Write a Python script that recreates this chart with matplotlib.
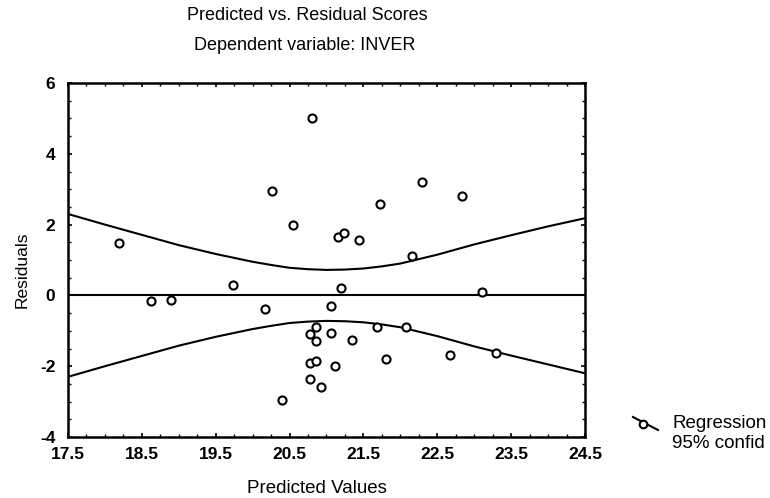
import matplotlib
matplotlib.use("Agg")
import matplotlib.pyplot as plt
from matplotlib.lines import Line2D
from matplotlib.ticker import MultipleLocator

plt.rcParams['font.family'] = ['Liberation Sans', 'DejaVu Sans']
plt.rcParams['axes.unicode_minus'] = False

# predicted values / residuals
predicted = [20.81, 20.26, 21.73, 20.55, 21.15, 21.24, 21.44, 18.19, 22.29, 22.83,
             22.16, 23.10, 22.07, 21.81, 22.67, 23.30, 19.73, 21.20, 18.63, 18.89,
             20.17, 21.06, 20.86, 20.77, 20.86, 21.06, 21.35, 21.69, 20.77, 20.86,
             21.11, 20.77, 20.93, 20.40]
residuals = [5.0, 2.95, 2.58, 1.98, 1.65, 1.75, 1.57, 1.48, 3.2, 2.8,
             1.1, 0.1, -0.9, -1.8, -1.68, -1.63, 0.3, 0.22, -0.15, -0.12,
             -0.39, -0.31, -0.9, -1.1, -1.3, -1.07, -1.26, -0.9, -1.9, -1.85,
             -2.0, -2.36, -2.58, -2.95]

# 95% confidence band read at a few x positions
band_x = [17.5, 18.0, 18.5, 19.0, 19.5, 20.0, 20.25, 20.5, 20.75, 21.0, 21.25,
          21.5, 21.75, 22.0, 22.5, 23.0, 23.5, 24.0, 24.5]
band_upper = [2.3, 2.0, 1.71, 1.42, 1.17, 0.95, 0.86, 0.78, 0.74, 0.72, 0.73,
              0.76, 0.82, 0.9, 1.15, 1.44, 1.7, 1.95, 2.18]
band_lower = [-2.3, -2.0, -1.71, -1.42, -1.17, -0.95, -0.86, -0.78, -0.74, -0.72, -0.73,
              -0.76, -0.82, -0.9, -1.15, -1.44, -1.7, -1.95, -2.2]

x_ticks = [17.5, 18.5, 19.5, 20.5, 21.5, 22.5, 23.5, 24.5]
y_ticks = [-4, -2, 0, 2, 4, 6]

W, H = 770, 498
fig = plt.figure(figsize=(W / 100, H / 100), dpi=100)
ax = fig.add_axes([68 / W, 1 - 437 / H, (585 - 68) / W, (437 - 83) / H])

ax.plot(band_x, band_upper, color='black', lw=1.5)
ax.plot(band_x, band_lower, color='black', lw=1.5)
ax.axhline(0, color='black', lw=1.5)
ax.scatter(predicted, residuals, s=34, facecolors='white', edgecolors='black',
           linewidths=1.5, zorder=3)

ax.set_xlim(17.5, 24.5)
ax.set_ylim(-4, 6)
ax.set_xticks(x_ticks)
ax.set_xticklabels([f"{v:.1f}" for v in x_ticks])
ax.set_yticks(y_ticks)
ax.xaxis.set_minor_locator(MultipleLocator(0.25))
ax.yaxis.set_minor_locator(MultipleLocator(0.5))
ax.tick_params(which='both', direction='in', top=True, right=True, color='black')
ax.tick_params(which='major', length=3, width=1.2, labelsize=12.5)
ax.tick_params(axis='y', which='major', pad=9)
ax.tick_params(axis='x', which='major', pad=7)
ax.tick_params(which='minor', length=2, width=1)
for lab in ax.get_xticklabels() + ax.get_yticklabels():
    lab.set_fontweight('bold')
for sp in ax.spines.values():
    sp.set_linewidth(1.8)

fig.text(307 / W, 1 - 15 / H, "Predicted vs. Residual Scores", ha='center', va='center',
         fontsize=13)
fig.text(305 / W, 1 - 45 / H, "Dependent variable: INVER", ha='center', va='center',
         fontsize=13)
fig.text(317 / W, 1 - 488 / H, "Predicted Values", ha='center', va='center', fontsize=13.5)
fig.text(22 / W, 1 - 270 / H, "Residuals", ha='center', va='center', rotation=90,
         fontsize=12.5)

# legend symbol and text outside the axes
fig.add_artist(Line2D([633 / W, 658 / W], [1 - 417 / H, 1 - 430 / H], color='black', lw=1.5))
fig.add_artist(Line2D([643 / W], [1 - 424 / H], marker='o', markersize=5.5,
                      markerfacecolor='white', markeredgecolor='black', markeredgewidth=1.5))
fig.text(672 / W, 1 - 423 / H, "Regression", ha='left', va='center', fontsize=13.5)
fig.text(672 / W, 1 - 443 / H, "95% confid", ha='left', va='center', fontsize=13.5)

fig.savefig("out.png", dpi=100)
